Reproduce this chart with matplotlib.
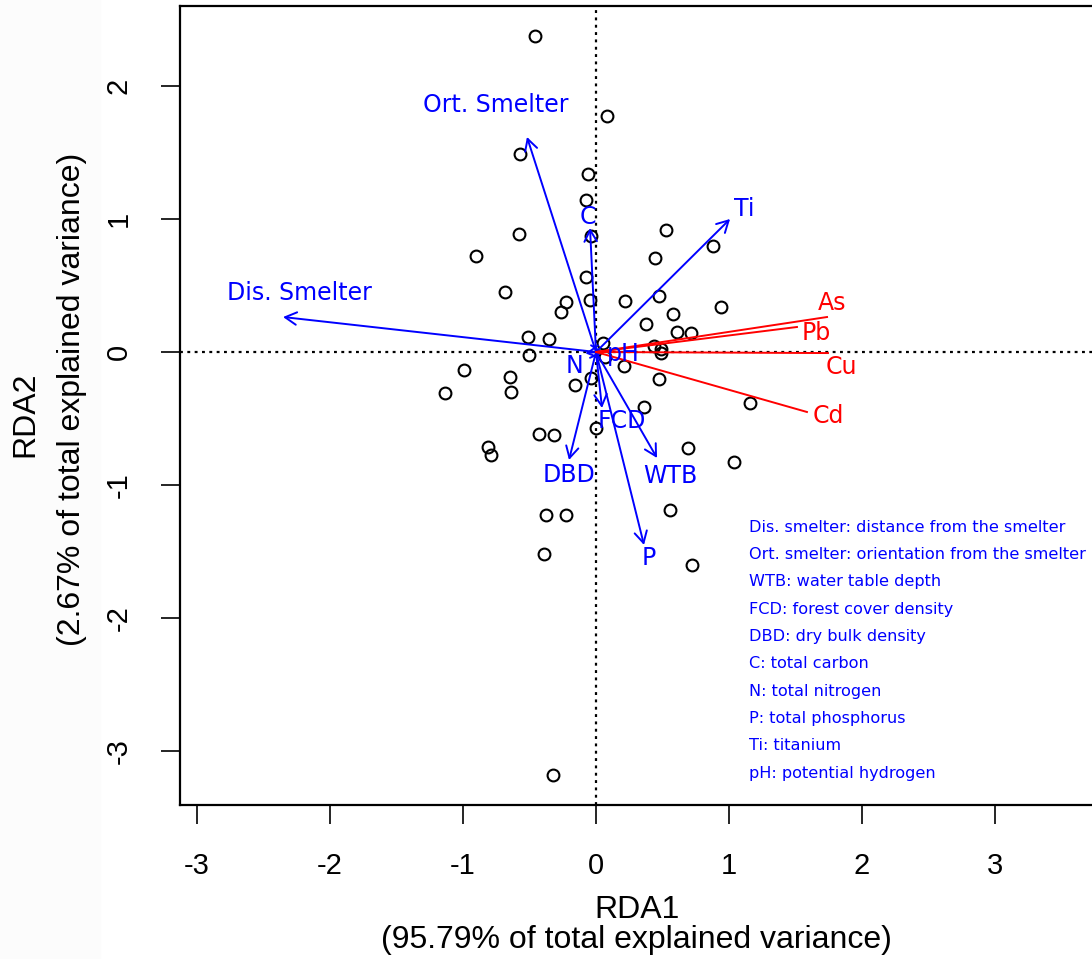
import matplotlib
matplotlib.use("Agg")
import matplotlib.pyplot as plt
from matplotlib.patches import Rectangle

plt.rcParams["axes.unicode_minus"] = False

# site scores (RDA1, RDA2)
site_x = [-0.459, 0.083, -0.571, -0.060, -0.075, 0.526, -0.579, -0.038, -0.902, 0.880,
          0.444, -0.075, -0.684, -0.045, -0.226, -0.263, 0.218, 0.474, 0.940, 0.579,
          0.376, 0.609, 0.714, -0.511, -0.353, 0.053, 0.436, 0.489, 0.489, -0.504,
          0.068, 0.211, -0.992, -0.647, -0.038, 0.474, -1.135, -0.639, -0.158, 1.158,
          0.361, 0.000, -0.429, -0.316, -0.812, -0.789, 0.692, 1.038, -0.376, -0.226,
          0.556, -0.391, 0.722, -0.323]
site_y = [2.376, 1.774, 1.489, 1.338, 1.143, 0.917, 0.887, 0.872, 0.722, 0.797,
          0.707, 0.564, 0.451, 0.391, 0.376, 0.301, 0.383, 0.421, 0.338, 0.286,
          0.211, 0.150, 0.143, 0.113, 0.098, 0.068, 0.045, 0.023, -0.008, -0.023,
          -0.038, -0.105, -0.135, -0.188, -0.195, -0.203, -0.308, -0.301, -0.248, -0.383,
          -0.414, -0.571, -0.617, -0.624, -0.714, -0.774, -0.722, -0.827, -1.226, -1.226,
          -1.188, -1.519, -1.602, -3.180]

# environmental variables (biplot arrows)
env_names = ["Dis. Smelter", "Ort. Smelter", "C", "Ti", "pH", "N", "FCD", "DBD", "WTB", "P"]
env_x = [-2.353, -0.519, -0.045, 1.008, 0.060, -0.080, 0.045, -0.203, 0.459, 0.361]
env_y = [0.263, 1.617, 0.932, 1.000, -0.005, -0.010, -0.421, -0.812, -0.797, -1.451]

# metals (response variables)
metal_names = ["As", "Pb", "Cu", "Cd"]
metal_x = [1.737, 1.511, 1.744, 1.586]
metal_y = [0.263, 0.188, -0.008, -0.451]

abbrev = [
    "Dis. smelter: distance from the smelter",
    "Ort. smelter: orientation from the smelter",
    "WTB: water table depth",
    "FCD: forest cover density",
    "DBD: dry bulk density",
    "C: total carbon",
    "N: total nitrogen",
    "P: total phosphorus",
    "Ti: titanium",
    "pH: potential hydrogen",
]

fig = plt.figure(figsize=(10.92, 9.59), dpi=100)
fig.patches.append(Rectangle((0, 0), 100 / 1092, 1, transform=fig.transFigure,
                             color="#fcfcfc", zorder=0))
ax = fig.add_axes([180 / 1092, 1 - 805 / 959, 913 / 1092, 799 / 959])
ax.set_xlim(-416 / 133, 497 / 133)
ax.set_ylim(-453 / 133, 346 / 133)

for side in ["left", "bottom", "top"]:
    ax.spines[side].set_linewidth(1.6)
ax.spines["right"].set_visible(False)

dots = (0, (1.3, 2.0))
ax.axhline(0, color="black", ls=dots, lw=1.6, zorder=1)
ax.axvline(0, color="black", ls=dots, lw=1.6, zorder=1)

ax.plot(site_x, site_y, "o", mfc="none", mec="black", ms=8.5, mew=1.5, zorder=2)

for x, y in zip(env_x, env_y):
    ax.annotate("", xy=(x, y), xytext=(0, 0),
                arrowprops=dict(arrowstyle="->,head_length=0.55,head_width=0.3",
                                color="blue", lw=1.4, shrinkA=0, shrinkB=0,
                                mutation_scale=15), zorder=3)

env_label_pos = [(-2.233, 0.444), (-0.752, 1.857), (-0.06, 1.015), (1.113, 1.075),
                 (0.203, -0.015), (-0.165, -0.105), (0.196, -0.519), (-0.203, -0.925),
                 (0.556, -0.932), (0.398, -1.549)]
for name, (lx, ly) in zip(env_names, env_label_pos):
    ax.text(lx, ly, name, color="blue", fontsize=17, ha="center", va="center", zorder=4)

for x, y in zip(metal_x, metal_y):
    ax.plot([0, x], [0, y], color="red", lw=1.4, zorder=3)

metal_label_pos = [(1.774, 0.368), (1.654, 0.143), (1.842, -0.113), (1.744, -0.481)]
for name, (lx, ly) in zip(metal_names, metal_label_pos):
    ax.text(lx, ly, name, color="red", fontsize=17, ha="center", va="center", zorder=4)

for i, line in enumerate(abbrev):
    ax.text(1.15, -1.316 - i * 0.2055, line, color="blue", fontsize=11.6,
            ha="left", va="center")

ax.set_xticks(range(-3, 4))
ax.set_yticks(range(-3, 3))
ax.tick_params(length=14, width=1.2, pad=20, labelsize=21)
ax.tick_params(axis="y", labelrotation=90)
for lab in ax.get_xticklabels() + ax.get_yticklabels():
    lab.set_fontfamily("Liberation Sans")
for lab in ax.get_yticklabels():
    lab.set_va("center")

fig.text(637 / 1092, 1 - 910 / 959, "RDA1", ha="center", va="center",
         fontsize=23, family="Liberation Sans")
fig.text(636 / 1092, 1 - 940 / 959, "(95.79% of total explained variance)",
         ha="center", va="center", fontsize=23, family="Liberation Sans")
fig.text(25 / 1092, 1 - 414 / 959, "RDA2", ha="center", va="center", rotation=90,
         fontsize=23, family="Liberation Sans")
fig.text(72 / 1092, 1 - 399 / 959, "(2.67% of total explained variance)",
         ha="center", va="center", rotation=90, fontsize=23, family="Liberation Sans")

fig.savefig("out.png", dpi=100)
